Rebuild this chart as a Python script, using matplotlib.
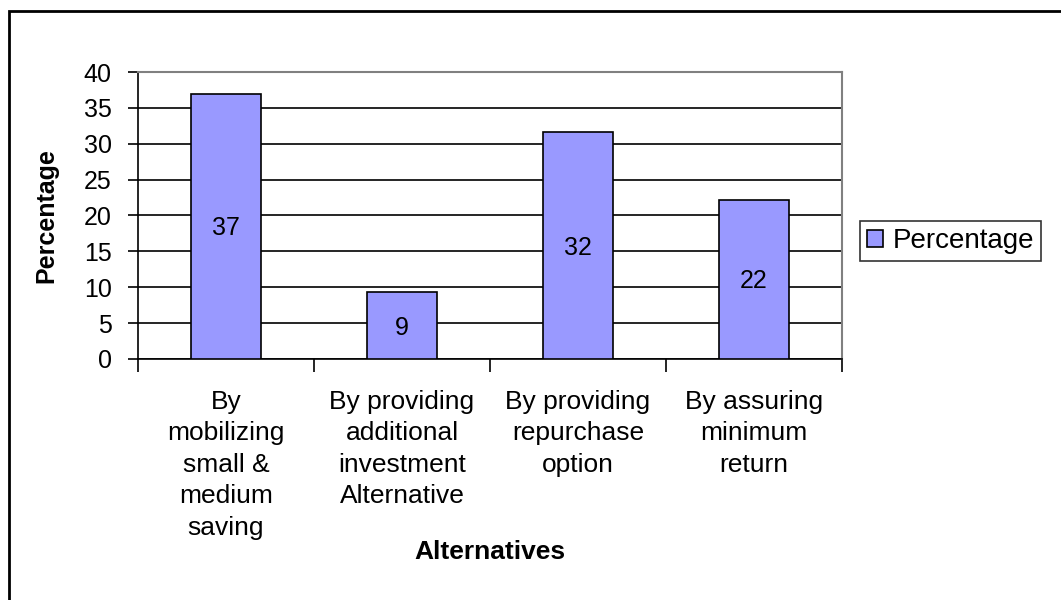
import matplotlib.pyplot as plt
import matplotlib.patches as mpatches
import numpy as np

plt.rcParams['font.family'] = ['Liberation Sans', 'DejaVu Sans']

categories = ["By\nmobilizing\nsmall &\nmedium\nsaving",
              "By providing\nadditional\ninvestment\nAlternative",
              "By providing\nrepurchase\noption",
              "By assuring\nminimum\nreturn"]
percentage = [37.0, 9.3, 31.6, 22.2]
yticks = [0, 5, 10, 15, 20, 25, 30, 35, 40]

fig = plt.figure(figsize=(10.61, 6.0), dpi=100)
ax = fig.add_axes([0.130, 0.4017, 0.6636, 0.4783])

x = np.arange(len(categories))
bars = ax.bar(x, percentage, width=0.4, color='#9999ff', edgecolor='black',
              linewidth=1.2, label='Percentage', zorder=3)

# value text in the middle of each bar
for b, v in zip(bars, percentage):
    ax.text(b.get_x() + b.get_width() / 2, v / 2 - 0.3, f"{v:.0f}",
            ha='center', va='center', fontsize=18, zorder=4)

ax.set_xlim(-0.5, len(categories) - 0.5)
ax.set_ylim(0, 40)
ax.set_yticks(yticks)
ax.yaxis.grid(True, color='black', linewidth=1.2, zorder=0)
ax.tick_params(axis='y', labelsize=18, length=7, width=1.2, direction='out', pad=12)

ax.set_xticks(x)
ax.set_xticklabels(categories, fontsize=19, linespacing=1.4)
ax.tick_params(axis='x', which='major', length=0, pad=22)
ax.set_xticks(np.arange(len(categories) + 1) - 0.5, minor=True)
ax.tick_params(axis='x', which='minor', length=9, width=1.2, direction='out')

for side in ['top', 'right']:
    ax.spines[side].set_color('#808080')
    ax.spines[side].set_linewidth(1.5)
for side in ['left', 'bottom']:
    ax.spines[side].set_color('black')
    ax.spines[side].set_linewidth(1.2)

ax.set_ylabel('Percentage', fontsize=18, fontweight='bold', labelpad=18)
ax.set_xlabel('Alternatives', fontsize=19, fontweight='bold', labelpad=0)

leg = ax.legend(loc='center left', bbox_to_anchor=(1.025, 0.41), fontsize=20,
                frameon=True, fancybox=False, edgecolor='black',
                handlelength=0.6, handleheight=0.6, handletextpad=0.35,
                borderpad=0.25, borderaxespad=0)
leg.get_frame().set_linewidth(1.2)

# chart frame (left and top edges visible)
frame = mpatches.Rectangle((9 / 1061, -0.05), 1.2, 1 - 11 / 600 + 0.05,
                           transform=fig.transFigure, fill=False,
                           edgecolor='black', linewidth=2, clip_on=False)
fig.patches.append(frame)

fig.savefig('out.png', dpi=100, facecolor='white')
